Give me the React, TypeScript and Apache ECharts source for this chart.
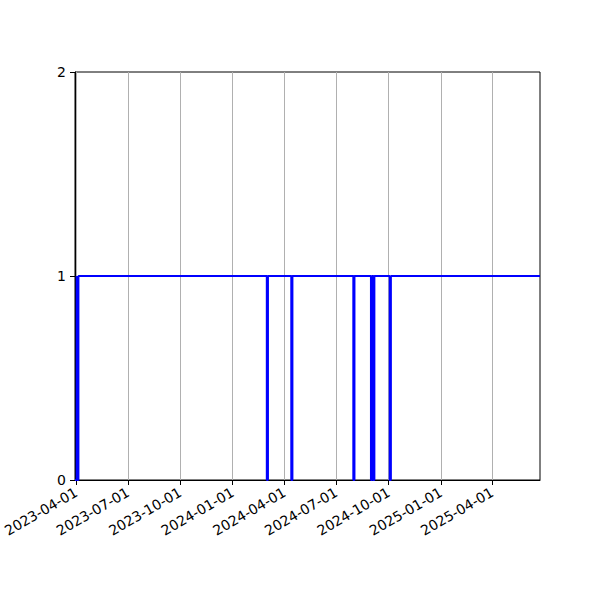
import React, { useEffect, useRef } from "react";
import * as echarts from "echarts";

// step changes: value holds from its date until the next date
const changeDates = [
  "2023-03-30", "2023-04-02", "2023-04-03", "2023-04-05",
  "2024-03-01", "2024-03-03",
  "2024-04-13", "2024-04-15",
  "2024-07-31", "2024-08-02",
  "2024-08-31", "2024-09-02", "2024-09-04", "2024-09-06",
  "2024-10-03", "2024-10-05",
  "2025-06-24",
];
const changeValues = [0, 1, 0, 1, 0, 1, 0, 1, 0, 1, 0, 1, 0, 1, 0, 1, 1];

const tickDates = [
  "2023-04-01", "2023-07-01", "2023-10-01", "2024-01-01", "2024-04-01",
  "2024-07-01", "2024-10-01", "2025-01-01", "2025-04-01",
];
const xStart = "2023-03-30";
const xEnd = "2025-06-24";
const yTicks = [0, 1, 2];

const toTime = (s: string) => {
  const [y, m, d] = s.split("-").map(Number);
  return new Date(y, m - 1, d).getTime();
};
const pad = (n: number) => (n < 10 ? "0" + n : "" + n);
const fmt = (v: number) => {
  const d = new Date(v);
  return `${d.getFullYear()}-${pad(d.getMonth() + 1)}-${pad(d.getDate())}`;
};

const font = "DejaVu Sans";

const App: React.FC = () => {
  const chartRef = useRef<HTMLDivElement>(null);

  useEffect(() => {
    document.body.style.margin = "0";
    const chart = echarts.init(chartRef.current, null, { renderer: "svg" });
    const ticks = tickDates.map(toTime);
    const options = {
      animation: false,
      backgroundColor: "#fff",
      grid: {
        left: 75,
        right: 60,
        top: 72,
        bottom: 120,
        show: true,
        borderColor: "#000",
        borderWidth: 1,
        backgroundColor: "transparent",
        outerBoundsMode: "none",
      },
      xAxis: {
        type: "value",
        min: toTime(xStart),
        max: toTime(xEnd),
        axisLine: { show: true, lineStyle: { color: "#000", width: 1 } },
        axisTick: {
          show: true,
          inside: false,
          length: 5,
          lineStyle: { color: "#000", width: 1 },
          customValues: ticks,
        },
        axisLabel: {
          show: true,
          rotate: 30,
          margin: 11,
          color: "#000",
          fontFamily: font,
          fontSize: 14,
          customValues: ticks,
          formatter: (v: number) => fmt(v),
        },
        splitLine: {
          show: true,
          lineStyle: { color: "#b0b0b0", width: 1 },
        },
      },
      yAxis: {
        type: "value",
        min: yTicks[0],
        max: yTicks[yTicks.length - 1],
        interval: 1,
        axisLine: { show: true, lineStyle: { color: "#000", width: 1 } },
        axisTick: {
          show: true,
          inside: false,
          length: 5,
          lineStyle: { color: "#000", width: 1 },
        },
        axisLabel: {
          color: "#000",
          fontFamily: font,
          fontSize: 14,
          margin: 9,
        },
        splitLine: { show: false },
      },
      series: [
        {
          type: "line",
          step: "end",
          showSymbol: false,
          symbol: "none",
          lineStyle: { color: "#0000ff", width: 2 },
          itemStyle: { color: "#0000ff" },
          data: changeDates.map((d, i) => [toTime(d), changeValues[i]]),
        },
      ],
    };
    chart.setOption(options);
    return () => {
      chart.dispose();
    };
  }, []);

  return <div ref={chartRef} style={{ width: 600, height: 600 }}></div>;
};

export default App;
